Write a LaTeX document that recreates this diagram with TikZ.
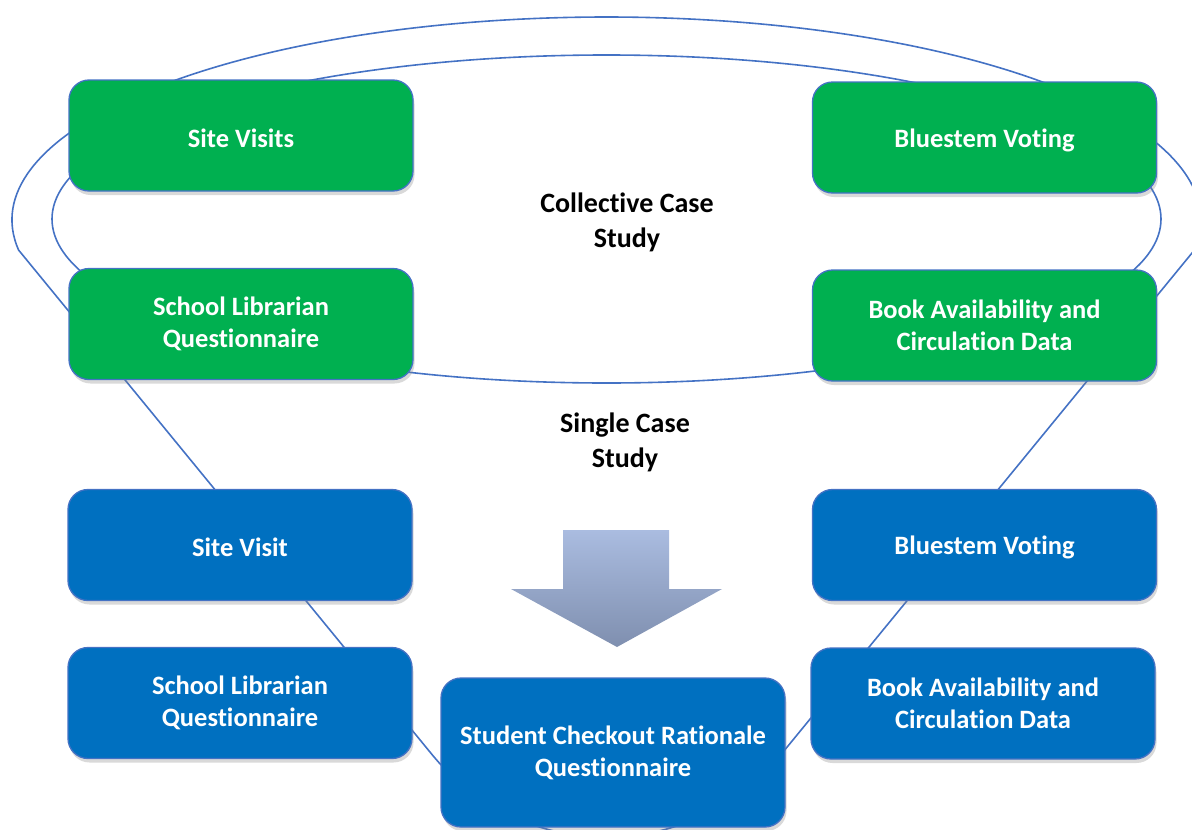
\documentclass[tikz,border=0pt]{standalone}
\usepackage{fontspec}
\setmainfont{Carlito}[Ligatures={CommonOff,ContextualOff}, Contextuals=AlternateOff]
\usetikzlibrary{shadows}
\definecolor{boxgreen}{RGB}{0,176,80}
\definecolor{boxblue}{RGB}{0,112,192}
\definecolor{edgeblue}{RGB}{68,114,196}
\definecolor{arrowtop}{RGB}{170,188,224}
\definecolor{arrowbot}{RGB}{127,143,175}
\tikzset{
  card/.style={draw=edgeblue, line width=1.3pt, rounded corners=20pt,
    minimum width=344pt, minimum height=111pt, align=center, text=white,
    font=\bfseries\fontsize{26.5}{32}\selectfont,
    execute at begin node={\rule{0pt}{24pt}},
    drop shadow={shadow xshift=1.5pt, shadow yshift=-4pt, opacity=0.3}},
  greencard/.style={card, fill=boxgreen},
  bluecard/.style={card, fill=boxblue},
  frame/.style={draw=edgeblue, line width=1.6pt},
  caption/.style={align=center, font=\bfseries\fontsize{28}{35}\selectfont, text=black},
}
\begin{document}
\begin{tikzpicture}[x=1pt,y=-1pt]
\useasboundingbox (0,0) rectangle (1192,830);
\begin{scope}
  \clip (0,0) rectangle (1192,830);
  \coordinate (oc) at (606.5,220);
  \coordinate (bc) at (606.5,611.7);
  \path (oc) ++(188.5:594.5pt and 203pt) coordinate (lk);
  \path (oc) ++(-8.5:594.5pt and 203pt) coordinate (rk);
  \path (bc) ++(219.3:225.5pt) coordinate (t1);
  \path (bc) ++(320.7:225.5pt) coordinate (t2);
  \draw[frame] (lk) arc[start angle=188.5, end angle=-8.5, x radius=594.5pt, y radius=203pt]
    -- (t2) arc[start angle=320.7, end angle=219.3, radius=225.5pt] -- cycle;
  \coordinate (ic) at (606.5,219);
  \draw[frame] (ic) ellipse [x radius=554.5pt, y radius=164pt];
\end{scope}

\shade[top color=arrowtop, bottom color=arrowbot]
  (563,530) coordinate (a1) -- (669,530) -- (669,589) -- (722,589) -- (617,647) coordinate (tip) -- (511,589) -- (563,589) -- cycle;

\node[caption] (collective) at (627,222) {Collective Case\\Study};
\node[caption] (single) at (625,442) {Single Case\\Study};

\node[greencard] (sitevisits) at (241,135.5) {Site Visits};
\node[greencard] (slqg) at (241,324) {School Librarian\\Questionnaire};
\node[greencard] (bvg) at (984.5,137.5) {Bluestem Voting};
\node[greencard] (bacg) at (984.5,325.5) {Book Availability and\\Circulation Data};

\node[bluecard] (sitevisit) at (240,545) {Site Visit};
\node[bluecard] (slqb) at (240,703) {School Librarian\\Questionnaire};
\node[bluecard] (bvb) at (984.5,545) {Bluestem Voting};
\node[bluecard] (bacb) at (983,703.5) {Book Availability and\\Circulation Data};
\node[bluecard, minimum height=149pt] (scrq) at (613,752.5) {Student Checkout Rationale\\Questionnaire};
\end{tikzpicture}
\end{document}
